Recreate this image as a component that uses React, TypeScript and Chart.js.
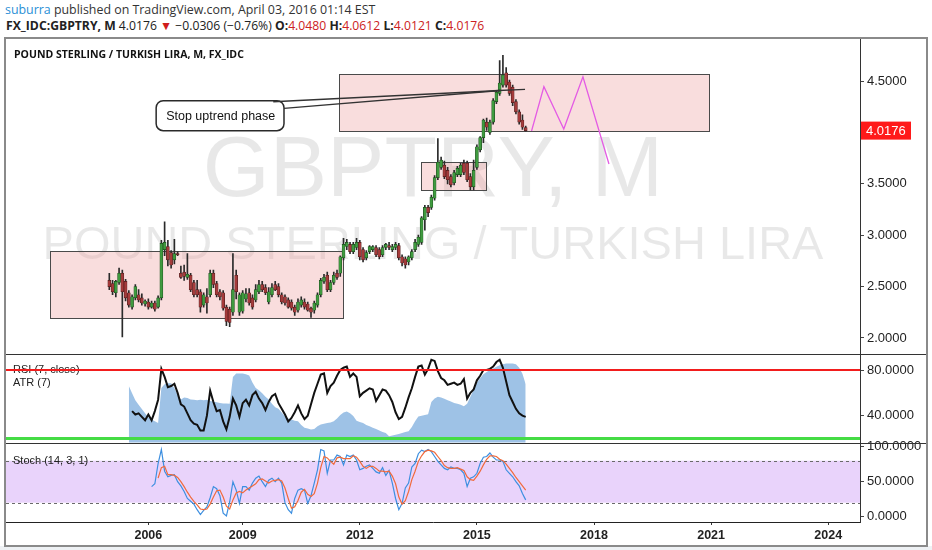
import React, { useEffect, useRef } from 'react';
import { Chart, registerables } from 'chart.js';

Chart.register(...registerables);

// GBPTRY monthly candles, x = bar index (0 = first bar on the chart)
const opens = [
  2.56, 2.53, 2.44, 2.54, 2.63, 2.55, 2.44, 2.30, 2.39, 2.42,
  2.39, 2.33, 2.35, 2.30, 2.34, 2.30, 2.39, 2.86, 2.89, 2.83,
  2.76, 2.82, 2.63, 2.64, 2.59, 2.61, 2.54, 2.47, 2.45, 2.32,
  2.40, 2.42, 2.63, 2.53, 2.45, 2.44, 2.30, 2.28, 2.25, 2.61,
  2.25, 2.26, 2.38, 2.44, 2.39, 2.37, 2.45, 2.52, 2.49, 2.35,
  2.42, 2.52, 2.50, 2.42, 2.40, 2.37, 2.35, 2.30, 2.27, 2.32,
  2.35, 2.33, 2.29, 2.27, 2.32, 2.42, 2.55, 2.61, 2.47, 2.54,
  2.63, 2.63, 2.78, 2.89, 2.91, 2.84, 2.88, 2.93, 2.86, 2.78,
  2.84, 2.86, 2.88, 2.86, 2.81, 2.88, 2.90, 2.86, 2.88, 2.90,
  2.79, 2.77, 2.74, 2.78, 2.86, 2.91, 2.93, 3.15, 3.27, 3.27,
  3.36, 3.56, 3.66, 3.68, 3.63, 3.57, 3.51, 3.59, 3.59, 3.70,
  3.70, 3.57, 3.47, 3.66, 3.83, 3.95, 4.10, 4.00, 4.10, 4.30,
  4.38, 4.46, 4.58, 4.49, 4.44, 4.30, 4.20, 4.12, 4.048,
];
const highs = [
  2.63, 2.56, 2.56, 2.68, 2.66, 2.57, 2.46, 2.42, 2.52, 2.47,
  2.43, 2.37, 2.38, 2.36, 2.36, 2.41, 2.95, 3.13, 2.95, 2.85,
  2.96, 2.84, 2.70, 2.71, 2.82, 2.63, 2.56, 2.56, 2.47, 2.44,
  2.48, 2.66, 2.66, 2.55, 2.47, 2.46, 2.32, 2.30, 2.82, 2.66,
  2.44, 2.46, 2.48, 2.48, 2.42, 2.52, 2.56, 2.55, 2.52, 2.49,
  2.53, 2.55, 2.53, 2.44, 2.42, 2.39, 2.37, 2.32, 2.38, 2.40,
  2.38, 2.35, 2.30, 2.36, 2.44, 2.58, 2.62, 2.64, 2.56, 2.64,
  2.66, 2.80, 2.97, 2.96, 2.93, 2.93, 2.97, 2.95, 2.88, 2.85,
  2.90, 2.90, 2.90, 2.88, 2.90, 2.92, 2.93, 2.91, 2.93, 2.92,
  2.81, 2.79, 2.80, 2.86, 2.96, 3.00, 3.18, 3.29, 3.29, 3.39,
  3.58, 3.94, 3.76, 3.72, 3.66, 3.59, 3.63, 3.67, 3.70, 3.73,
  3.72, 3.60, 3.73, 3.88, 3.96, 4.13, 4.14, 4.12, 4.33, 4.41,
  4.70, 4.75, 4.63, 4.51, 4.46, 4.32, 4.22, 4.17, 4.0612,
];
const lows = [
  2.47, 2.42, 2.40, 2.52, 2.01, 2.36, 2.30, 2.28, 2.37, 2.35,
  2.32, 2.31, 2.28, 2.29, 2.26, 2.29, 2.37, 2.80, 2.70, 2.68,
  2.72, 2.80, 2.58, 2.56, 2.57, 2.45, 2.40, 2.40, 2.25, 2.30,
  2.24, 2.40, 2.49, 2.40, 2.37, 2.27, 2.12, 2.11, 2.22, 2.38,
  2.22, 2.24, 2.35, 2.32, 2.28, 2.35, 2.43, 2.45, 2.42, 2.33,
  2.40, 2.46, 2.40, 2.33, 2.32, 2.29, 2.27, 2.22, 2.25, 2.30,
  2.28, 2.26, 2.20, 2.24, 2.30, 2.40, 2.53, 2.45, 2.45, 2.52,
  2.57, 2.60, 2.76, 2.86, 2.82, 2.82, 2.86, 2.76, 2.74, 2.76,
  2.82, 2.84, 2.79, 2.77, 2.79, 2.86, 2.86, 2.84, 2.86, 2.76,
  2.70, 2.68, 2.71, 2.76, 2.84, 2.89, 2.91, 3.05, 3.18, 3.25,
  3.34, 3.54, 3.64, 3.55, 3.50, 3.47, 3.49, 3.57, 3.57, 3.59,
  3.52, 3.44, 3.44, 3.64, 3.81, 3.90, 4.02, 3.98, 4.08, 4.28,
  4.36, 4.44, 4.44, 4.36, 4.26, 4.18, 4.08, 4.03, 4.0121,
];
const closes = [
  2.50, 2.45, 2.55, 2.63, 2.45, 2.39, 2.32, 2.40, 2.50, 2.37,
  2.34, 2.36, 2.30, 2.34, 2.28, 2.39, 2.92, 2.93, 2.76, 2.71,
  2.82, 2.81, 2.59, 2.60, 2.62, 2.47, 2.42, 2.42, 2.30, 2.42,
  2.34, 2.63, 2.52, 2.42, 2.40, 2.29, 2.16, 2.15, 2.47, 2.45,
  2.42, 2.44, 2.43, 2.34, 2.30, 2.47, 2.52, 2.47, 2.44, 2.45,
  2.49, 2.47, 2.42, 2.35, 2.34, 2.30, 2.29, 2.25, 2.35, 2.37,
  2.30, 2.27, 2.25, 2.34, 2.42, 2.56, 2.59, 2.47, 2.54, 2.61,
  2.59, 2.79, 2.91, 2.93, 2.84, 2.91, 2.93, 2.79, 2.76, 2.83,
  2.89, 2.89, 2.81, 2.79, 2.88, 2.91, 2.88, 2.89, 2.91, 2.78,
  2.73, 2.71, 2.79, 2.84, 2.93, 2.98, 3.17, 3.27, 3.22, 3.37,
  3.56, 3.71, 3.73, 3.57, 3.54, 3.49, 3.61, 3.65, 3.68, 3.61,
  3.54, 3.47, 3.63, 3.86, 3.95, 4.12, 4.05, 4.10, 4.31, 4.39,
  4.48, 4.56, 4.46, 4.38, 4.29, 4.20, 4.10, 4.05, 4.0176,
];
const lastClose = 4.0176;

// RSI (7, close), first value at bar 7
const rsiFrom = 7;
const rsi7 = [
  44, 41, 42, 39, 36, 41, 36, 44, 54, 81,
  74, 65, 66, 68, 60, 50, 48, 42, 36, 33,
  32, 27, 27, 40, 62, 52, 44, 45, 35, 28,
  39, 55, 49, 39, 51, 54, 49, 58, 61, 55,
  51, 45, 52, 57, 59, 51, 46, 41, 35, 38,
  43, 49, 42, 37, 40, 50, 60, 68, 76, 77,
  60, 66, 69, 75, 80, 82, 83, 74, 77, 74,
  57, 60, 62, 64, 63, 53, 58, 63, 62, 58,
  52, 43, 37, 39, 47, 56, 64, 74, 83, 84,
  76, 81, 89, 88, 79, 73, 71, 67, 68, 69,
  67, 68, 72, 55, 60, 63, 71, 75, 80, 80,
  81, 83, 87, 89, 82, 70, 58, 52, 46, 42,
  40, 39,
];

// ATR (7), first value at bar 6
const atrFrom = 6;
const atr7 = [
  0.210, 0.190, 0.170, 0.157, 0.145, 0.133, 0.122, 0.115, 0.110, 0.105,
  0.205, 0.215, 0.218, 0.218, 0.205, 0.185, 0.172, 0.178, 0.176, 0.172,
  0.171, 0.170, 0.171, 0.170, 0.171, 0.168, 0.166, 0.164, 0.162, 0.161,
  0.161, 0.160, 0.236, 0.246, 0.246, 0.246, 0.244, 0.240, 0.220, 0.205,
  0.198, 0.190, 0.180, 0.172, 0.160, 0.150, 0.146, 0.135, 0.124, 0.118,
  0.115, 0.112, 0.110, 0.100, 0.092, 0.090, 0.087, 0.088, 0.096, 0.101,
  0.103, 0.105, 0.107, 0.110, 0.118, 0.128, 0.135, 0.138, 0.133, 0.125,
  0.112, 0.108, 0.105, 0.100, 0.096, 0.092, 0.088, 0.084, 0.080, 0.077,
  0.068, 0.070, 0.072, 0.074, 0.077, 0.080, 0.082, 0.094, 0.110, 0.124,
  0.126, 0.128, 0.130, 0.165, 0.175, 0.180, 0.178, 0.174, 0.170, 0.166,
  0.162, 0.160, 0.157, 0.153, 0.160, 0.180, 0.200, 0.220, 0.232, 0.244,
  0.250, 0.256, 0.260, 0.265, 0.269, 0.272, 0.274, 0.274, 0.274, 0.272,
  0.262, 0.245, 0.215,
];

// Stoch (14, 3, 1)
const stochKFrom = 13;
const stochK = [
  43, 47, 76, 96, 65, 57, 59, 60, 50, 44,
  36, 26, 22, 18, 10, 3, 9, 14, 27, 43,
  40, 30, 5, 1, 21, 50, 38, 19, 43, 43,
  38, 48, 55, 58, 50, 43, 52, 55, 50, 55,
  48, 20, 10, 5, 26, 38, 40, 38, 19, 30,
  48, 67, 96, 94, 62, 81, 81, 88, 86, 74,
  88, 86, 88, 81, 67, 69, 72, 74, 69, 64,
  62, 70, 59, 66, 48, 26, 10, 19, 41, 48,
  71, 76, 90, 95, 93, 96, 93, 86, 79, 74,
  69, 67, 71, 69, 69, 67, 62, 43, 55, 57,
  62, 76, 85, 86, 91, 85, 81, 81, 79, 67,
  62, 57, 50, 44, 33, 24,
];
const stochDFrom = 15;
const stochD = [
  55, 70, 72, 60, 60, 59, 56, 50, 43, 35,
  28, 22, 17, 11, 10, 11, 18, 28, 37, 38,
  28, 15, 11, 24, 34, 36, 34, 38, 41, 44,
  47, 53, 54, 51, 48, 51, 52, 53, 51, 41,
  26, 12, 14, 23, 35, 39, 32, 29, 33, 48,
  70, 86, 84, 79, 75, 84, 85, 83, 83, 83,
  87, 85, 79, 72, 69, 72, 72, 69, 65, 65,
  64, 65, 58, 47, 28, 18, 23, 36, 53, 65,
  79, 87, 93, 95, 94, 92, 86, 80, 73, 70,
  69, 69, 70, 68, 66, 57, 53, 52, 58, 65,
  74, 82, 87, 87, 86, 82, 80, 75, 69, 63,
  56, 50, 44, 38,
];

// axis ticks
const yearTicks = [12, 41, 77, 113, 149, 185, 221];
const yearLabels = ['2006', '2009', '2012', '2015', '2018', '2021', '2024'];
const priceTicks = [2, 2.5, 3, 3.5, 4.5];
const rsiTicks = [40, 80];
const stochTicks = [0, 50, 100];
const rsiLevels = [80, 20];
const stochLevels = [80, 20];

// drawings, in bar index / price
const zoneStart = [-18.2, 95.7, 70.7];
const zoneEnd = [71.7, 115.7, 184.4];
const zoneLow = [2.192, 3.437, 4.014];
const zoneHigh = [2.846, 3.709, 4.571];
const projBars = [129.8, 133.6, 139.7, 145.6, 153.6];
const projPrices = [4.014, 4.445, 4.033, 4.542, 3.693];
const calloutBars = [14.4, 53.7];
const calloutPrices = [4.308, 4.017];
const pointerBars = [50.4, 53.7, 120.2];
const pointerPrices = [4.299, 4.234, 4.408];
const trendBars = [118, 127.8];
const trendPrices = [4.406, 4.419];

const AXIS_FONT = '"Liberation Sans", Arial, sans-serif';

const overlayPlugin = {
  id: 'overlay',
  beforeDatasetsDraw(chart: any) {
    const { ctx, chartArea: a } = chart;
    const { x, yP, yS } = chart.scales;
    ctx.save();
    ctx.beginPath();
    ctx.rect(a.left, a.top, a.width, a.height);
    ctx.clip();

    // watermark
    const cx = (a.left + a.right) / 2;
    const ph = yP.bottom - yP.top;
    ctx.fillStyle = 'rgba(0,0,0,0.09)';
    ctx.textAlign = 'center';
    ctx.textBaseline = 'middle';
    ctx.font = `86px ${AXIS_FONT}`;
    ctx.fillText('GBPTRY, M', cx, yP.top + ph * 0.423);
    ctx.font = `47px ${AXIS_FONT}`;
    ctx.fillText('POUND STERLING / TURKISH LIRA', cx, yP.top + ph * 0.655);

    // rectangles
    zoneStart.forEach((s, k) => {
      const x0 = Math.round(x.getPixelForValue(s)) + 0.5;
      const x1 = Math.round(x.getPixelForValue(zoneEnd[k])) + 0.5;
      const y0 = Math.round(yP.getPixelForValue(zoneHigh[k])) + 0.5;
      const y1 = Math.round(yP.getPixelForValue(zoneLow[k])) + 0.5;
      ctx.fillStyle = 'rgba(236,150,150,0.32)';
      ctx.fillRect(x0, y0, x1 - x0, y1 - y0);
      ctx.strokeStyle = '#4a4a4a';
      ctx.lineWidth = 1;
      ctx.strokeRect(x0, y0, x1 - x0, y1 - y0);
    });

    // stoch band
    const s0 = yS.getPixelForValue(stochLevels[0]);
    const s1 = yS.getPixelForValue(stochLevels[1]);
    ctx.fillStyle = '#e9d3fb';
    ctx.fillRect(a.left, s0, a.width, s1 - s0);
    ctx.strokeStyle = '#6a6a6a';
    ctx.lineWidth = 1;
    ctx.setLineDash([3, 3]);
    [s0, s1].forEach((yy) => {
      ctx.beginPath();
      ctx.moveTo(a.left, Math.round(yy) + 0.5);
      ctx.lineTo(a.right, Math.round(yy) + 0.5);
      ctx.stroke();
    });
    ctx.setLineDash([]);
    ctx.restore();
  },
  afterDatasetsDraw(chart: any) {
    const { ctx, chartArea: a } = chart;
    const { x, yP, yR, yS } = chart.scales;
    ctx.save();

    // pane labels
    ctx.fillStyle = '#222';
    ctx.font = `11px ${AXIS_FONT}`;
    ctx.textAlign = 'left';
    ctx.textBaseline = 'middle';
    ctx.fillText('RSI (7, close)', a.left + 7, yR.top + 16);
    ctx.fillText('ATR (7)', a.left + 7, yR.top + 29);
    ctx.fillText('Stoch (14, 3, 1)', a.left + 7, yS.top + 18);

    // RSI levels
    const levelColors = ['#f21d1d', '#45dc45'];
    const levelWidths = [2, 3];
    rsiLevels.forEach((lv, k) => {
      const yy = yR.getPixelForValue(lv);
      ctx.strokeStyle = levelColors[k];
      ctx.lineWidth = levelWidths[k];
      ctx.beginPath();
      ctx.moveTo(a.left, yy);
      ctx.lineTo(a.right, yy);
      ctx.stroke();
    });

    // callout "Stop uptrend phase"
    const bx0 = x.getPixelForValue(calloutBars[0]);
    const bx1 = x.getPixelForValue(calloutBars[1]);
    const by0 = yP.getPixelForValue(calloutPrices[0]);
    const by1 = yP.getPixelForValue(calloutPrices[1]);
    ctx.fillStyle = '#fff';
    ctx.strokeStyle = '#2a2a2a';
    ctx.lineWidth = 1.5;
    ctx.beginPath();
    ctx.roundRect(bx0, by0, bx1 - bx0, by1 - by0, 7);
    ctx.fill();
    ctx.stroke();
    ctx.fillStyle = '#111';
    ctx.font = `12.5px ${AXIS_FONT}`;
    ctx.fillText('Stop uptrend phase', bx0 + 10, (by0 + by1) / 2 + 1);

    const tipX = x.getPixelForValue(pointerBars[2]);
    const tipY = yP.getPixelForValue(pointerPrices[2]);
    ctx.strokeStyle = '#333';
    ctx.lineWidth = 1.4;
    for (let k = 0; k < 2; k++) {
      ctx.beginPath();
      ctx.moveTo(x.getPixelForValue(pointerBars[k]), yP.getPixelForValue(pointerPrices[k]));
      ctx.lineTo(tipX, tipY);
      ctx.stroke();
    }
    ctx.beginPath();
    ctx.moveTo(x.getPixelForValue(trendBars[0]), yP.getPixelForValue(trendPrices[0]));
    ctx.lineTo(x.getPixelForValue(trendBars[1]), yP.getPixelForValue(trendPrices[1]));
    ctx.stroke();
    ctx.restore();
  },
  afterDraw(chart: any) {
    const { ctx, chartArea: a, width } = chart;
    const { yP, yR, yS } = chart.scales;
    ctx.save();
    ctx.strokeStyle = '#333';
    ctx.lineWidth = 1;
    [yR.top, yS.top].forEach((t: number) => {
      const yy = Math.round(t) + 0.5;
      ctx.beginPath();
      ctx.moveTo(0, yy);
      ctx.lineTo(width, yy);
      ctx.stroke();
    });
    const py = yP.getPixelForValue(lastClose);
    ctx.fillStyle = '#ff1a1a';
    ctx.fillRect(a.right + 1, py - 9, 50, 18);
    ctx.fillStyle = '#fff';
    ctx.font = `13px ${AXIS_FONT}`;
    ctx.textAlign = 'left';
    ctx.textBaseline = 'middle';
    ctx.fillText(lastClose.toFixed(4), a.right + 6, py + 0.5);
    ctx.restore();
  },
};

const yAxis = (min: number, max: number, weight: number, ticks: number[]) => ({
  type: 'linear' as const,
  position: 'right' as const,
  stack: 'panes',
  stackWeight: weight,
  min,
  max,
  grid: { drawOnChartArea: false, tickLength: 4, color: '#444' },
  border: { display: true, color: '#333' },
  ticks: {
    color: '#222',
    padding: 3,
    font: { family: AXIS_FONT, size: 13 },
    callback: (v: any) => Number(v).toFixed(4),
  },
  afterBuildTicks: (s: any) => {
    s.ticks = ticks.map((v) => ({ value: v }));
  },
  afterFit: (s: any) => {
    s.width = 66;
    s.paddingTop = 0;
    s.paddingBottom = 0;
  },
});

const App: React.FC = () => {
  const chartRef = useRef<HTMLCanvasElement | null>(null);

  useEffect(() => {
    document.body.style.margin = '0';
    if (!chartRef.current) return;
    const rising = closes.map((c, i) => c >= opens[i]);

    // ATR uses its own hidden scale inside the RSI pane (0.05 at pane bottom, 0.30 at pane top)
    const atrPerPx = 0.25 / 88.1;
    const atrMax = 0.3 + 315.4 * atrPerPx;
    const atrMin = 0.05 - 79.5 * atrPerPx;

    const chart = new Chart(chartRef.current, {
      type: 'line',
      data: {
        datasets: [
          {
            type: 'line',
            label: 'ATR (7)',
            data: atr7.map((v, k) => ({ x: atrFrom + k, y: v })),
            yAxisID: 'yA',
            borderWidth: 0,
            backgroundColor: '#9ec2e6',
            fill: { value: 0.05 },
            pointRadius: 0,
            order: 6,
          },
          {
            type: 'bar',
            label: 'wicks',
            data: highs.map((h, i) => ({ x: i, y: [lows[i], h] })),
            yAxisID: 'yP',
            barThickness: 1,
            backgroundColor: '#2a2a2a',
            grouped: false,
            order: 5,
          },
          {
            type: 'bar',
            label: 'bodies',
            data: opens.map((o, i) => ({ x: i, y: [o, closes[i]] })),
            yAxisID: 'yP',
            barThickness: 3,
            backgroundColor: rising.map((u) => (u ? '#3f9b3f' : '#a53b3b')),
            borderColor: rising.map((u) => (u ? '#1d4d1d' : '#4d1d1d')),
            borderWidth: 0.6,
            borderSkipped: false,
            minBarLength: 1,
            grouped: false,
            order: 4,
          },
          {
            type: 'line',
            label: 'projection',
            data: projBars.map((b, k) => ({ x: b, y: projPrices[k] })),
            yAxisID: 'yP',
            borderColor: '#e45ce4',
            borderWidth: 1.3,
            pointRadius: 0,
            order: 3,
          },
          {
            type: 'line',
            label: 'RSI (7, close)',
            data: rsi7.map((v, k) => ({ x: rsiFrom + k, y: v })),
            yAxisID: 'yR',
            borderColor: '#111',
            borderWidth: 2,
            pointRadius: 0,
            order: 2,
          },
          {
            type: 'line',
            label: '%K',
            data: stochK.map((v, k) => ({ x: stochKFrom + k, y: v })),
            yAxisID: 'yS',
            borderColor: '#3d8fe0',
            borderWidth: 1.2,
            pointRadius: 0,
            order: 1,
          },
          {
            type: 'line',
            label: '%D',
            data: stochD.map((v, k) => ({ x: stochDFrom + k, y: v })),
            yAxisID: 'yS',
            borderColor: '#f06a3c',
            borderWidth: 1.2,
            pointRadius: 0,
            order: 0,
          },
        ],
      },
      options: {
        animation: false,
        responsive: false,
        events: [],
        layout: { padding: 0 },
        plugins: { legend: { display: false }, tooltip: { enabled: false } },
        scales: {
          x: {
            type: 'linear',
            min: -31.76,
            max: 230.77,
            offset: false,
            grid: { drawOnChartArea: false, tickLength: 3, color: '#333', offset: false },
            border: { display: true, color: '#222' },
            ticks: {
              autoSkip: false,
              maxRotation: 0,
              padding: 3,
              color: '#222',
              font: { family: AXIS_FONT, size: 12.5, weight: 'bold' },
              callback: (v: any) => yearLabels[yearTicks.indexOf(Number(v))] ?? '',
            },
            afterBuildTicks: (s: any) => {
              s.ticks = yearTicks.map((v) => ({ value: v }));
            },
            afterFit: (s: any) => {
              s.height = 22;
              s.paddingLeft = 0;
              s.paddingRight = 0;
            },
          },
          yP: yAxis(1.84, 4.909, 315.4, priceTicks),
          yR: yAxis(16.5, 93.7, 88.1, rsiTicks),
          yS: yAxis(-7.6, 106, 79.5, stochTicks),
          yA: { type: 'linear', position: 'right', display: false, min: atrMin, max: atrMax },
        },
      } as any,
      plugins: [overlayPlugin],
    });

    return () => {
      chart.destroy();
    };
  }, []);

  const red = { color: '#cc2222' };
  const bold = { fontWeight: 700 };

  return (
    <div style={{ position: 'relative', width: 932, height: 550, background: '#fff', overflow: 'hidden', fontFamily: '"Open Sans", sans-serif' }}>
      <div style={{ position: 'absolute', left: 5, top: 2, fontSize: 12.4, lineHeight: '16px', color: '#333', whiteSpace: 'nowrap' }}>
        <span style={{ color: '#2a8fd6' }}>suburra</span> published on TradingView.com, April 03, 2016 01:14 EST
      </div>
      <div style={{ position: 'absolute', left: 6, top: 18, fontSize: 12.2, lineHeight: '16px', color: '#222', whiteSpace: 'nowrap' }}>
        <span style={bold}>FX_IDC:GBPTRY, M</span> 4.0176 <span style={{ color: '#d01c1c' }}>▼</span> −0.0306 (−0.76%){' '}
        <span style={bold}>O:</span><span style={red}>4.0480</span>{' '}
        <span style={bold}>H:</span><span style={red}>4.0612</span>{' '}
        <span style={bold}>L:</span><span style={red}>4.0121</span>{' '}
        <span style={bold}>C:</span><span style={red}>4.0176</span>
      </div>
      <div style={{ position: 'absolute', left: 0, top: 546, width: 932, height: 4, background: '#eef1f4' }} />
      <div style={{ position: 'absolute', left: 4, top: 37, width: 924, height: 510, border: '2px solid #8a8a8a', boxSizing: 'border-box' }} />
      <canvas ref={chartRef} width={920} height={505} style={{ position: 'absolute', left: 6, top: 39, width: 920, height: 505 }} />
      <div style={{ position: 'absolute', left: 14, top: 46, fontSize: 10.5, fontWeight: 700, lineHeight: '16px', color: '#111', whiteSpace: 'nowrap' }}>
        POUND STERLING / TURKISH LIRA, M, FX_IDC
      </div>
    </div>
  );
};

export default App;
